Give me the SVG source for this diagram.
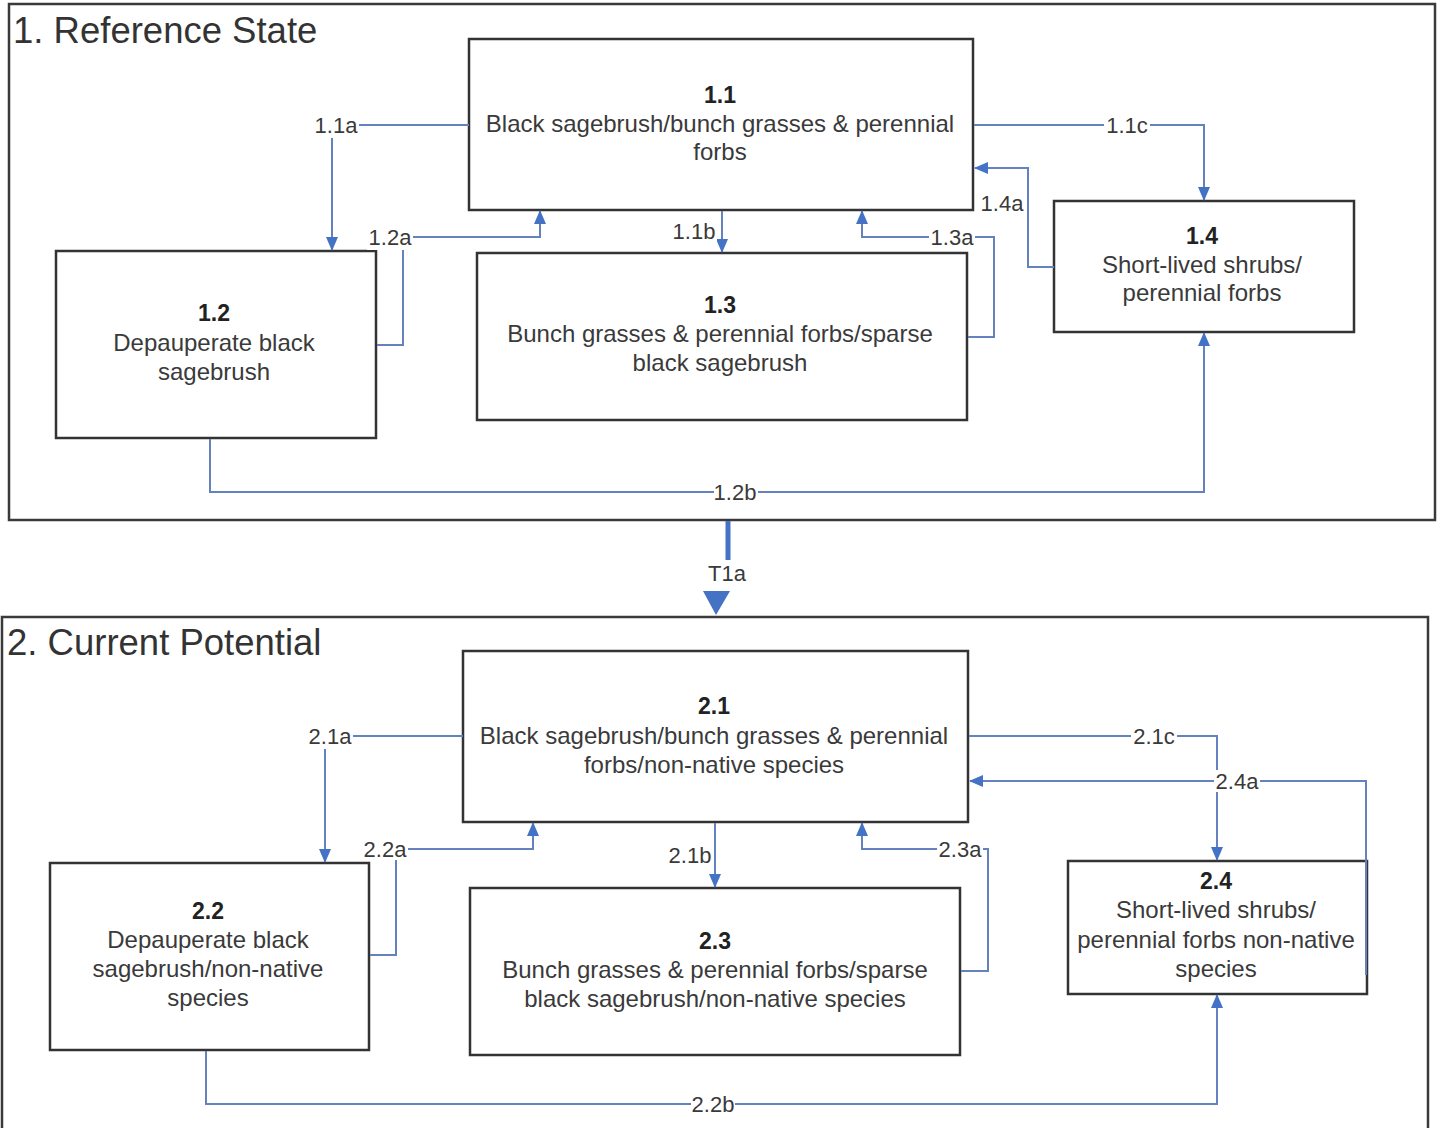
<svg xmlns="http://www.w3.org/2000/svg" width="1441" height="1128" viewBox="0 0 1441 1128">
<style>
.state{fill:none;stroke:#3a3a3a;stroke-width:2.5}
.box{fill:#fff;stroke:#333;stroke-width:2.5}
.title{font-family:"Liberation Sans",Arial,sans-serif;font-size:36.5px;fill:#333}
.num{font-family:"Liberation Sans",Arial,sans-serif;font-size:23px;font-weight:bold;fill:#222;text-anchor:middle}
.txt{font-family:"Liberation Sans",Arial,sans-serif;font-size:24px;fill:#3a3a3a;text-anchor:middle}
.conn{fill:none;stroke:#6482bd;stroke-width:2}
.bg{fill:#fff}
.lbl{font-family:"Liberation Sans",Arial,sans-serif;font-size:22px;fill:#3a3a3a;text-anchor:middle}
</style>
<defs>
<marker id="arr" markerUnits="userSpaceOnUse" markerWidth="14" markerHeight="14" viewBox="0 0 14 14" refX="13" refY="7" orient="auto">
<path d="M0,1 L14,7 L0,13 Z" fill="#4472c4"/>
</marker>
</defs>
<rect width="1441" height="1128" fill="#fff"/>
<g id="state1">
<rect class="state" x="9" y="4" width="1426" height="516"/>
<text class="title" x="13" y="43">1. Reference State</text>
</g>
<g id="state2">
<rect class="state" x="2" y="617" width="1426" height="530"/>
<text class="title" x="7" y="655">2. Current Potential</text>
</g>
<g id="n1_1">
<rect class="box" x="469" y="39" width="504" height="171"/>
<text class="num" x="720" y="103">1.1</text>
<text class="txt" x="720" y="132">Black sagebrush/bunch grasses &amp; perennial</text>
<text class="txt" x="720" y="160">forbs</text>
</g>
<g id="n1_2">
<rect class="box" x="56" y="251" width="320" height="187"/>
<text class="num" x="214" y="321">1.2</text>
<text class="txt" x="214" y="351">Depauperate black</text>
<text class="txt" x="214" y="380">sagebrush</text>
</g>
<g id="n1_3">
<rect class="box" x="477" y="253" width="490" height="167"/>
<text class="num" x="720" y="313">1.3</text>
<text class="txt" x="720" y="342">Bunch grasses &amp; perennial forbs/sparse</text>
<text class="txt" x="720" y="371">black sagebrush</text>
</g>
<g id="n1_4">
<rect class="box" x="1054" y="201" width="300" height="131"/>
<text class="num" x="1202" y="244">1.4</text>
<text class="txt" x="1202" y="273">Short-lived shrubs/</text>
<text class="txt" x="1202" y="301">perennial forbs</text>
</g>
<g id="n2_1">
<rect class="box" x="463" y="651" width="505" height="171"/>
<text class="num" x="714" y="714">2.1</text>
<text class="txt" x="714" y="744">Black sagebrush/bunch grasses &amp; perennial</text>
<text class="txt" x="714" y="773">forbs/non-native species</text>
</g>
<g id="n2_2">
<rect class="box" x="50" y="863" width="319" height="187"/>
<text class="num" x="208" y="919">2.2</text>
<text class="txt" x="208" y="948">Depauperate black</text>
<text class="txt" x="208" y="977">sagebrush/non-native</text>
<text class="txt" x="208" y="1006">species</text>
</g>
<g id="n2_3">
<rect class="box" x="470" y="888" width="490" height="167"/>
<text class="num" x="715" y="949">2.3</text>
<text class="txt" x="715" y="978">Bunch grasses &amp; perennial forbs/sparse</text>
<text class="txt" x="715" y="1007">black sagebrush/non-native species</text>
</g>
<g id="n2_4">
<rect class="box" x="1068" y="861" width="299" height="133"/>
<text class="num" x="1216" y="889">2.4</text>
<text class="txt" x="1216" y="918">Short-lived shrubs/</text>
<text class="txt" x="1216" y="948">perennial forbs non-native</text>
<text class="txt" x="1216" y="977">species</text>
</g>
<g id="connectors">
<path class="conn" marker-end="url(#arr)" d="M469,125 H332 V250"/>
<path class="conn" marker-end="url(#arr)" d="M377,345 H403 V237 H540 V211"/>
<path class="conn" marker-end="url(#arr)" d="M722,211 V252"/>
<path class="conn" marker-end="url(#arr)" d="M968,337 H994 V237 H862 V211"/>
<path class="conn" marker-end="url(#arr)" d="M974,125 H1204 V200"/>
<path class="conn" marker-end="url(#arr)" d="M1054,267 H1028 V168 H975"/>
<path class="conn" marker-end="url(#arr)" d="M210,439 V492 H1204 V333"/>
<path d="M728,521 V560" fill="none" stroke="#4472c4" stroke-width="5"/>
<polygon points="703,591 730,591 716,615" fill="#4472c4"/>
<path class="conn" marker-end="url(#arr)" d="M463,736 H325 V862"/>
<path class="conn" marker-end="url(#arr)" d="M370,955 H396 V849 H533 V823"/>
<path class="conn" marker-end="url(#arr)" d="M715,823 V887"/>
<path class="conn" marker-end="url(#arr)" d="M961,971 H988 V849 H862 V823"/>
<path class="conn" marker-end="url(#arr)" d="M969,736 H1217 V860"/>
<path class="conn" marker-end="url(#arr)" d="M1366,975 V781 H970"/>
<path class="conn" marker-end="url(#arr)" d="M206,1051 V1104 H1217 V995"/>
<rect class="bg" x="313" y="114" width="46" height="24"/>
<rect class="bg" x="367" y="226" width="46" height="24"/>
<rect class="bg" x="671" y="220" width="46" height="22"/>
<rect class="bg" x="929" y="226" width="46" height="22"/>
<rect class="bg" x="1104" y="114" width="46" height="22"/>
<rect class="bg" x="714" y="481" width="44" height="22"/>
<rect class="bg" x="307" y="725" width="46" height="24"/>
<rect class="bg" x="362" y="838" width="46" height="22"/>
<rect class="bg" x="937" y="838" width="46" height="22"/>
<rect class="bg" x="1131" y="725" width="46" height="22"/>
<rect class="bg" x="1214" y="770" width="46" height="22"/>
<rect class="bg" x="691" y="1093" width="44" height="22"/>
<text class="lbl" x="336" y="133">1.1a</text>
<text class="lbl" x="390" y="245">1.2a</text>
<text class="lbl" x="694" y="239">1.1b</text>
<text class="lbl" x="952" y="245">1.3a</text>
<text class="lbl" x="1127" y="133">1.1c</text>
<text class="lbl" x="1002" y="211">1.4a</text>
<text class="lbl" x="735" y="500">1.2b</text>
<text class="lbl" x="727" y="581">T1a</text>
<text class="lbl" x="330" y="744">2.1a</text>
<text class="lbl" x="385" y="857">2.2a</text>
<text class="lbl" x="690" y="863">2.1b</text>
<text class="lbl" x="960" y="857">2.3a</text>
<text class="lbl" x="1154" y="744">2.1c</text>
<text class="lbl" x="1237" y="789">2.4a</text>
<text class="lbl" x="713" y="1112">2.2b</text>
</g>
</svg>
